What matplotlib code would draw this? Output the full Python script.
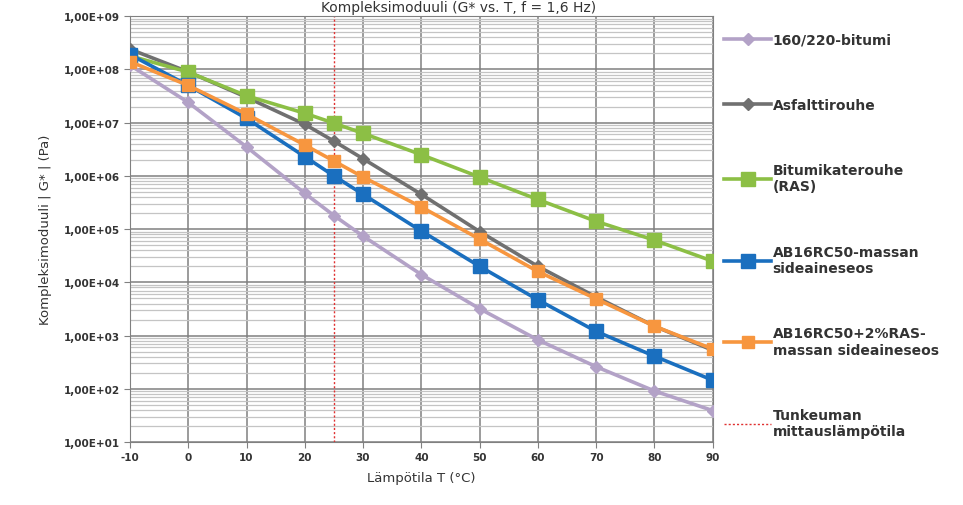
import matplotlib.pyplot as plt
import matplotlib.ticker as mticker
import numpy as np

plt.rcParams['axes.unicode_minus'] = False

# Data
temps = [-10, 0, 10, 20, 25, 30, 40, 50, 60, 70, 80, 90]
bitumi_160_220 = [1.2e8, 2.4e7, 3.5e6, 4.7e5, 1.8e5, 7.4e4, 1.4e4, 3.2e3, 8.3e2, 2.6e2, 9.1e1, 3.9e1]
asfalttirouhe = [2.4e8, 9.0e7, 3.0e7, 9.3e6, 4.5e6, 2.1e6, 4.5e5, 9.0e4, 2.0e4, 5.3e3, 1.5e3, 5.3e2]
ras = [1.8e8, 8.9e7, 3.2e7, 1.5e7, 9.8e6, 6.3e6, 2.5e6, 9.5e5, 3.6e5, 1.4e5, 6.2e4, 2.5e4]
ab16rc50 = [1.9e8, 5.0e7, 1.2e7, 2.3e6, 1.0e6, 4.5e5, 9.2e4, 2.0e4, 4.7e3, 1.2e3, 4.1e2, 1.45e2]
ab16rc50_ras = [1.4e8, 5.0e7, 1.45e7, 3.8e6, 1.9e6, 9.5e5, 2.6e5, 6.5e4, 1.6e4, 4.9e3, 1.5e3, 5.6e2]
test_temp = 25

series = [
    ("160/220-bitumi", bitumi_160_220, "#b3a2c7", "D", 6),
    ("Asfalttirouhe", asfalttirouhe, "#707070", "D", 6),
    ("Bitumikaterouhe\n(RAS)", ras, "#8cbf45", "s", 10),
    ("AB16RC50-massan\nsideaineseos", ab16rc50, "#1a6fbf", "s", 10),
    ("AB16RC50+2%RAS-\nmassan sideaineseos", ab16rc50_ras, "#f7963f", "s", 9),
]

fig = plt.figure(figsize=(9.63, 5.06), dpi=100, facecolor='w')
ax = fig.add_axes([0.135, 0.1245, 0.605, 0.8415])

for label, vals, col, mk, ms in series:
    ax.plot(temps, vals, color=col, lw=2.6, marker=mk, markersize=ms,
            markeredgecolor=col, label=label, zorder=3)
ax.axvline(test_temp, color='#e03030', lw=1.0, ls=(0, (1.5, 1.5)),
           label="Tunkeuman\nmittauslämpötila", zorder=2)

ax.set_yscale('log')
ax.set_ylim(1e1, 1e9)
ax.set_xlim(-10, 90)
ax.set_xticks(np.arange(-10, 91, 10))
ax.yaxis.set_major_locator(mticker.LogLocator(base=10, numticks=20))
ax.yaxis.set_minor_locator(mticker.LogLocator(base=10, subs=np.arange(2, 10), numticks=20))
ax.yaxis.set_minor_formatter(mticker.NullFormatter())
ax.yaxis.set_major_formatter(mticker.FuncFormatter(
    lambda v, p: "1,00E+%02d" % int(round(np.log10(v)))))

ax.grid(True, which='major', axis='both', color='#808080', lw=1.1, zorder=0)
ax.grid(True, which='minor', axis='y', color='#c4c4c4', lw=0.9, zorder=0)
ax.set_axisbelow(True)
for s in ax.spines.values():
    s.set_color('#808080')
ax.tick_params(axis='both', which='major', labelsize=7.5, color='#808080',
               length=4, labelcolor='#333333')
ax.tick_params(axis='y', which='minor', length=0)
for t in ax.get_xticklabels() + ax.get_yticklabels():
    t.set_fontweight('bold')

ax.set_xlabel("Lämpötila T (°C)", fontsize=9.5, color='#333333', labelpad=6)
ax.set_ylabel("Kompleksimoduuli | G* | (Pa)", fontsize=9.5, color='#333333', labelpad=8)

fig.text(0.476, 0.999, "Kompleksimoduuli (G* vs. T, f = 1,6 Hz)", ha='center',
         va='top', fontsize=10, color='#333333')

leg = ax.legend(loc='upper left', bbox_to_anchor=(1.01, 0.975), frameon=False,
                fontsize=10, labelspacing=3.7, handlelength=3.4, handletextpad=0.1,
                borderaxespad=0)
for t in leg.get_texts():
    t.set_color('#333333')
    t.set_fontweight('bold')

plt.savefig("out.png", dpi=100)
